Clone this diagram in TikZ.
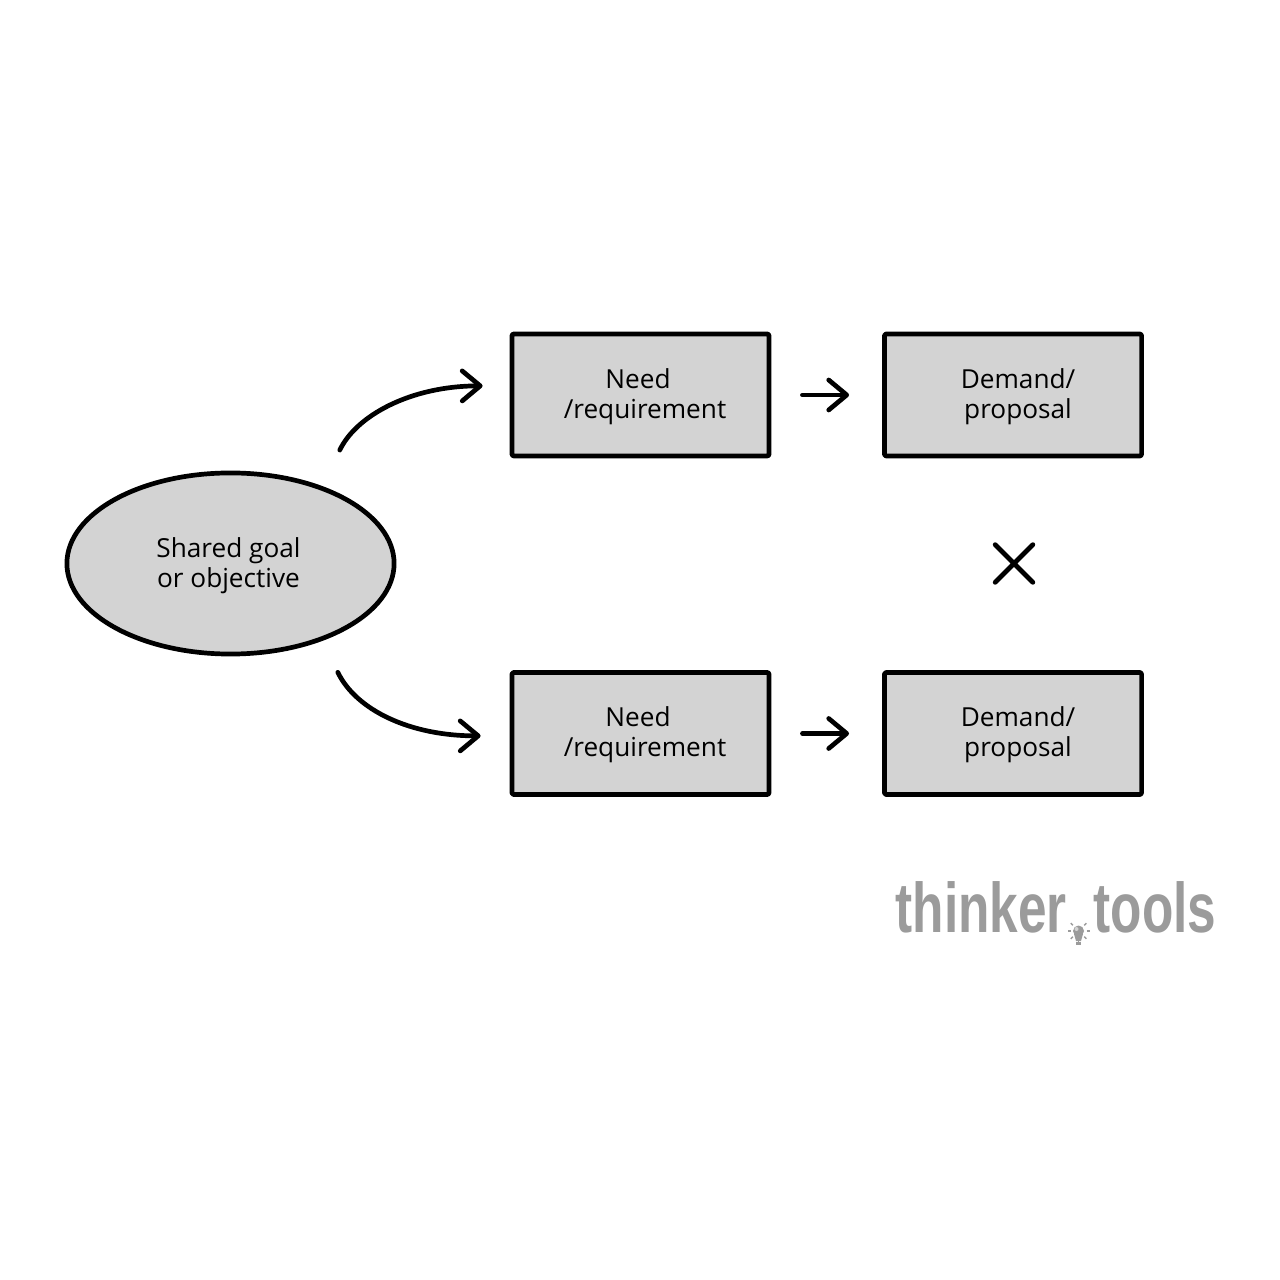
\documentclass[tikz,border=0pt]{standalone}
\usepackage{fontspec}
\usetikzlibrary{arrows.meta,shapes.geometric,shapes.misc}
\setmainfont{Open Sans}
\newfontfamily\logofont[FakeStretch=0.73]{Liberation Sans Bold}
\definecolor{boxgray}{HTML}{D3D3D3}
\definecolor{logogray}{HTML}{9B9B9B}
\newcommand{\dropline}[1]{\rule{0pt}{#1}}
\tikzset{
  thickline/.style={line width=0.047cm,line cap=round,line join=round},
  barb/.style={thickline,-{Straight Barb[length=0.18cm,width=0.3cm,line width=0.047cm,round]}},
  goalshape/.style={ellipse,draw,thickline,fill=boxgray,minimum width=3.27cm,minimum height=1.81cm,inner sep=0pt,align=center,font=\fontsize{7.45}{8.5}\selectfont},
  itembox/.style={rectangle,draw,thickline,rounded corners=0.02cm,fill=boxgray,minimum width=2.57cm,minimum height=1.22cm,inner sep=0pt,align=center,font=\fontsize{7.45}{8.5}\selectfont},
  logotext/.style={text=logogray,inner sep=0pt,anchor=base west,font=\fontsize{20}{20}\logofont},
  bulbray/.style={logogray,line width=0.014cm}
}
\begin{document}
\begin{tikzpicture}[x=0.01cm,y=-0.01cm]
\useasboundingbox (0,0) rectangle (1280,1280);
\node [goalshape] (goal) at (230.5,563.5) {\dropline{0.25cm}Shared goal\hspace*{.04cm}\\or objective\hspace*{.04cm}};
\node [itembox] (needa) at (640.5,395) {\dropline{0.23cm}Need\hspace*{.05cm}\\\hspace*{.09cm}/requirement};
\node [itembox] (demanda) at (1013,395) {\dropline{0.23cm}\hspace*{.1cm}Demand/\\\hspace*{.1cm}proposal};
\node [itembox] (needb) at (640.5,733.5) {\dropline{0.23cm}Need\hspace*{.05cm}\\\hspace*{.09cm}/requirement};
\node [itembox] (demandb) at (1013,733.5) {\dropline{0.23cm}\hspace*{.1cm}Demand/\\\hspace*{.1cm}proposal};
\node [cross out,draw,thickline,minimum size=0.33cm,inner sep=0pt] (versus) at (1014,563.5) {};
% arrows
\draw [barb,shorten <=0.40cm,shorten >=0.27cm] (goal.40) .. controls (356,416) and (410,386) .. (needa.176);
\draw [barb,shorten <=0.35cm,shorten >=0.29cm] (goal.-40) .. controls (356,710) and (410,736) .. (needb.181);
\draw [barb,shorten <=0.31cm,shorten >=0.33cm] (needa) -- (demanda);
\draw [barb,shorten <=0.31cm,shorten >=0.33cm] (needb) -- (demandb);
% logo
\node [logotext] (thinker) at (895,932) {thinker};
\node [logotext] (tools) at (1093,932) {tools};
\fill [logogray] (1078.5,931) circle (5.5);
\fill [logogray] (1074,934) -- (1083,934) -- (1081,941) -- (1076,941) -- cycle;
\fill [logogray] (1076,942) rectangle (1081,945);
\fill [boxgray] (1076.5,929) circle (2);
\foreach \a in {0,45,90,135,180,225,315} {
  \draw [bulbray] (1078.5,931) ++(\a:8) -- ++(\a:3);
}
\end{tikzpicture}
\end{document}
